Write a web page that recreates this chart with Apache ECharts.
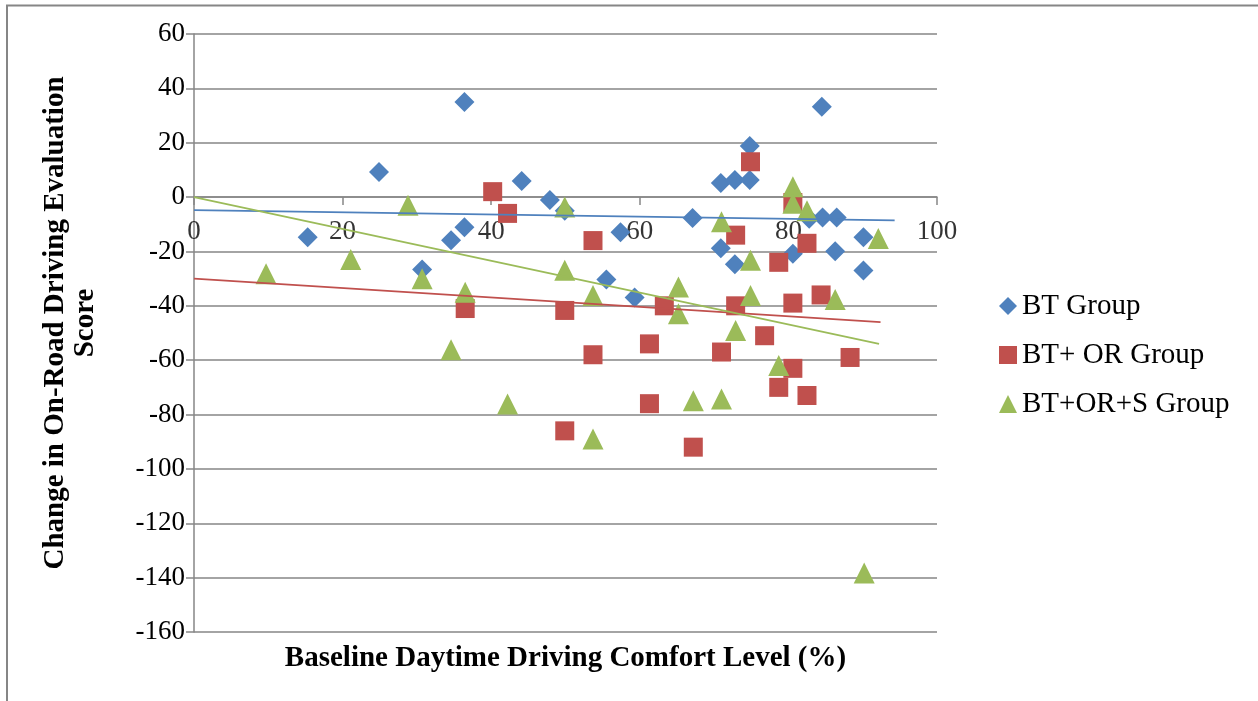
<!DOCTYPE html>
<html>
<head>
<meta charset="utf-8">
<script src="https://cdn.jsdelivr.net/npm/echarts@6/dist/echarts.min.js"></script>
<style>
html,body{margin:0;padding:0;background:#fff;}
#chart{width:1258px;height:701px;}
</style>
</head>
<body>
<div id="chart"></div>
<script>
// Data
const seriesNames = ['BT Group', 'BT+ OR Group', 'BT+OR+S Group'];
const xTicks = [0, 20, 40, 60, 80, 100];
const yTicks = [60, 40, 20, 0, -20, -40, -60, -80, -100, -120, -140, -160];

const btGroup = [
  [15.3, -14.8], [24.9, 9.2], [30.7, -26.6], [34.6, -15.9], [36.4, -11.1],
  [36.4, 35], [44.1, 5.9], [47.9, -1.1], [49.9, -5], [55.5, -30.3],
  [57.4, -12.9], [59.3, -36.9], [67.1, -7.7], [70.9, 5.2], [70.9, -18.8],
  [72.8, 6.3], [72.8, -24.7], [74.8, 18.8], [74.8, 6.3], [80.6, -20.8],
  [84.5, 33.2], [82.8, -8], [84.6, -7.5], [86.5, -7.5], [86.3, -19.9],
  [90.1, -14.8], [90.1, -27]
];
const btOrGroup = [
  [40.2, 2], [42.2, -6], [36.5, -41], [49.9, -41.7], [49.9, -86],
  [53.7, -16], [53.7, -58], [61.3, -54], [61.3, -76], [63.3, -40],
  [67.2, -92], [71, -57], [72.9, -40], [72.9, -14], [74.9, 13],
  [76.8, -51], [78.7, -24], [78.7, -70], [80.6, -2], [80.6, -39],
  [80.6, -63], [82.5, -17], [82.5, -73], [84.4, -36], [88.3, -59]
];
const btOrSGroup = [
  [9.7, -28.2], [21.1, -23], [28.8, -3], [30.7, -30], [34.6, -56.2],
  [36.5, -35], [42.2, -76.1], [49.9, -3.6], [49.9, -26.9], [53.7, -36.2],
  [53.7, -89], [65.2, -33.1], [65.2, -42.9], [67.2, -74.9], [71, -9.1],
  [71, -74.3], [72.9, -49.1], [74.9, -23.2], [74.9, -36.2], [78.7, -62],
  [80.6, 3.8], [80.6, -2.3], [82.5, -5], [86.3, -37.7], [92.1, -15.2],
  [90.2, -138.3]
];
// Linear trendline endpoints
const btTrend = [[0, -4.8], [94.3, -8.6]];
const btOrTrend = [[0, -30], [92.4, -46]];
const btOrSTrend = [[0, 0], [92.2, -54]];

const colors = ['#4F81BD', '#C0504D', '#9BBB59'];
const font = '"Liberation Serif", "Times New Roman", serif';
const tickFont = 27;
const titleFont = 29;

const chart = echarts.init(document.getElementById('chart'));
chart.setOption({
  animation: false,
  backgroundColor: '#fff',
  grid: { left: 194, right: 321, top: 34, bottom: 69, containLabel: false, outerBoundsMode: 'none' },
  xAxis: {
    type: 'value', min: xTicks[0], max: xTicks[xTicks.length - 1], interval: 20,
    axisLine: { onZero: true, lineStyle: { color: '#868686', width: 1.5 } },
    axisTick: { show: true, inside: false, length: 8, lineStyle: { color: '#868686', width: 1.5 } },
    axisLabel: { show: false },
    splitLine: { show: false },
    name: 'Baseline Daytime Driving Comfort Level (%)',
    nameLocation: 'middle', nameGap: 12, nameMoveOverlap: false,
    nameTextStyle: { color: '#000', fontFamily: font, fontSize: titleFont, fontWeight: 'bold', verticalAlign: 'top' }
  },
  yAxis: {
    type: 'value', min: yTicks[yTicks.length - 1], max: yTicks[0], interval: 20,
    axisLine: { show: true, onZero: false, lineStyle: { color: '#868686', width: 1.5 } },
    axisTick: { show: true, length: 8, lineStyle: { color: '#868686', width: 1.5 } },
    axisLabel: { color: '#000', fontFamily: font, fontSize: tickFont, margin: 9 },
    splitLine: { show: true, lineStyle: { color: '#868686', width: 1.5 } },
    name: 'Change in On-Road Driving Evaluation\nScore',
    nameLocation: 'middle', nameGap: 93, nameRotate: 90, nameMoveOverlap: false,
    nameTextStyle: { color: '#000', fontFamily: font, fontSize: titleFont, fontWeight: 'bold', lineHeight: 30, align: 'center', padding: [0, 0, 0, 20] }
  },
  legend: {
    orient: 'vertical', left: 994, top: 285,
    itemWidth: 18, itemHeight: 18, itemGap: 17,
    data: [
      { name: seriesNames[0], icon: 'diamond' },
      { name: seriesNames[1], icon: 'rect' },
      { name: seriesNames[2], icon: 'triangle' }
    ],
    textStyle: { color: '#000', fontFamily: font, fontSize: titleFont, lineHeight: 32 }
  },
  graphic: [
    { type: 'polyline', silent: true, z: 100,
      shape: { points: [[7, 720], [7, 5.5], [1270, 5.5]] },
      style: { stroke: '#868686', lineWidth: 2, fill: null } }
  ],
  series: [
    { name: seriesNames[0], type: 'scatter', symbol: 'diamond', symbolSize: 20,
      itemStyle: { color: colors[0], opacity: 1 }, data: btGroup, z: 2 },
    { name: seriesNames[1], type: 'scatter', symbol: 'rect', symbolSize: 19,
      itemStyle: { color: colors[1], opacity: 1 }, data: btOrGroup, z: 3 },
    { name: seriesNames[2], type: 'scatter', symbol: 'triangle', symbolSize: 21,
      itemStyle: { color: colors[2], opacity: 1 }, data: btOrSGroup, z: 4 },
    { name: 'bt-trend', type: 'line', data: btTrend, showSymbol: false, symbol: 'none',
      lineStyle: { color: colors[0], width: 1.8 }, z: 5, silent: true },
    { name: 'btor-trend', type: 'line', data: btOrTrend, showSymbol: false, symbol: 'none',
      lineStyle: { color: colors[1], width: 1.8 }, z: 5, silent: true },
    { name: 'btors-trend', type: 'line', data: btOrSTrend, showSymbol: false, symbol: 'none',
      lineStyle: { color: colors[2], width: 1.8 }, z: 5, silent: true },
    // x-axis tick labels sitting under the zero line, as in the reference
    { name: 'x-tick-labels', type: 'scatter', silent: true, symbolSize: 0, z: 1,
      data: xTicks.map(v => [v, 0]),
      itemStyle: { color: 'rgba(0,0,0,0)' },
      label: { show: true, position: 'bottom', distance: 21, formatter: p => String(p.value[0]),
               color: '#000', fontFamily: font, fontSize: tickFont },
      labelLayout: { hideOverlap: false } }
  ]
});
</script>
</body>
</html>
